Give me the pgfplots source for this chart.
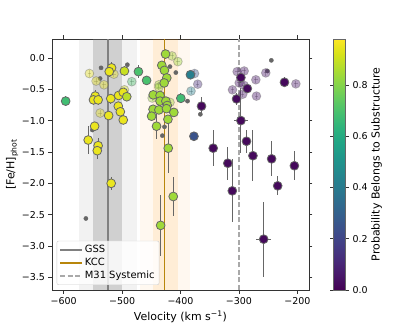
\documentclass[border=0pt]{standalone}
\usepackage{fontspec}
\setmainfont{DejaVu Sans}
\usepackage{pgfplots}
\usepackage{pgfplotstable}
\pgfplotsset{compat=1.18}

\definecolor{kcc}{RGB}{184,134,11}
\definecolor{gssline}{RGB}{128,128,128}
\definecolor{m31}{RGB}{169,169,169}
\definecolor{bandorange}{RGB}{255,140,0}

\pgfplotsset{linelegend/.style={legend image code/.code={\draw[##1] (0bp,0bp) -- (22bp,0bp);}}}

% stars with a colour (probability p)
\pgfplotstableread{
x y ex ey p
-596.6 -0.69 3 0.08 0.68
-518 -0.16 3 0.10 0.95
-522 -0.22 3 0.08 0.95
-496 -0.21 3 0.08 0.90
-472 -0.22 3 0.10 0.70
-458 -0.36 3 0.06 0.70
-546 -0.61 3 0.10 0.95
-549 -0.67 3 0.08 0.95
-541 -0.67 3 0.08 0.95
-519.4 -0.65 3 0.08 0.95
-506 -0.60 3 0.06 0.95
-498 -0.55 3 0.06 0.95
-492 -0.62 3 0.06 0.88
-506.5 -0.77 3 0.06 0.95
-503 -0.86 3 0.06 0.95
-498 -0.99 3 0.06 0.95
-523 -0.92 3 0.06 0.95
-547 -1.09 3 0.06 0.95
-558 -1.31 3 0.23 0.95
-541 -1.40 3 0.13 0.95
-542.5 -1.48 3 0.13 0.95
-518.7 -2.00 3 0.10 0.95
-425.6 0.06 3 0.05 0.84
-432 -0.12 3 0.06 0.84
-427.5 -0.20 3 0.06 0.84
-423.5 -0.32 3 0.06 0.84
-428 -0.40 3 0.06 0.84
-446.7 -0.59 3 0.06 0.84
-435 -0.60 3 0.06 0.84
-435 -0.69 3 0.06 0.84
-425 -0.69 3 0.06 0.84
-422.7 -0.76 3 0.06 0.84
-447 -0.82 3 0.06 0.84
-437 -0.83 3 0.06 0.84
-424 -0.81 3 0.06 0.84
-411.4 -0.87 3 0.06 0.84
-449.5 -0.93 3 0.06 0.84
-421.5 -0.98 3 0.06 0.84
-441 -1.09 3 0.20 0.84
-421 -1.44 3 0.40 0.84
-412.4 -2.21 3 0.31 0.84
-434 -2.67 3 0.49 0.84
-399.4 -0.645 3 0.08 0.68
-383 -0.27 3 0.07 0.42
-377 -1.25 7 0.07 0.25
-364 -0.77 3 0.14 0.02
-344 -1.44 3 0.29 0.02
-319 -1.68 3 0.26 0.02
-304 -0.655 3 0.10 0.02
-296.6 -1.00 12 0.52 0.02
-296.6 -0.315 3 0.08 0.02
-285.6 -0.49 3 0.06 0.02
-287 -1.33 3 0.18 0.02
-276 -1.56 3 0.41 0.02
-244 -1.61 3 0.28 0.02
-311.3 -2.12 3 0.50 0.02
-233.6 -2.04 3 0.15 0.02
-205 -1.72 3 0.23 0.02
-257.6 -2.89 13 0.60 0.02
-222 -0.39 3 0.08 0.02
}\solid

% faded stars
\pgfplotstableread{
x y ex ey p
-556 -0.25 3 0.05 0.95
-544.5 -0.37 3 0.05 0.95
-531 -0.43 3 0.05 0.95
-514 -0.26 3 0.05 0.95
-483.4 -0.38 3 0.05 0.70
-496 -0.51 3 0.05 0.92
-537.6 -0.88 3 0.05 0.95
-414.5 0.03 3 0.05 0.84
-404.5 -0.06 3 0.05 0.84
-437 -0.43 3 0.05 0.84
-437 -0.47 3 0.05 0.84
-448.5 -0.64 3 0.05 0.84
-418 -0.71 3 0.05 0.84
-376 -0.25 3 0.05 0.25
-370.5 -0.42 3 0.05 0.12
-382 -0.53 3 0.05 0.42
-303 -0.22 3 0.05 0.05
-291 -0.21 3 0.05 0.05
-254 -0.24 3 0.05 0.05
-271 -0.35 3 0.05 0.05
-202.5 -0.415 3 0.05 0.05
-299.5 -0.40 3 0.05 0.05
-291 -0.44 3 0.05 0.05
-311 -0.51 3 0.05 0.05
-293.5 -0.58 3 0.05 0.05
-270 -0.61 3 0.05 0.05
}\faded

% small grey dots
\pgfplotstableread{
x y
-536 -0.16
-537.6 -0.33
-491 -0.11
-551 -1.15
-562 -2.56
-418 -0.14
-408 -0.235
-388 -0.69
-366 -0.90
-427.4 -1.10
-431 -1.24
-244.5 -0.04
-251.3 -0.21
}\greydots

\begin{document}
\begin{tikzpicture}
\useasboundingbox (-52bp,-42bp) rectangle (363bp,290bp);
\begin{axis}[
  at={(0,0)}, anchor=south west,
  scale only axis, width=257bp, height=251bp,
  xmin=-620, xmax=-180, ymin=-3.7, ymax=0.3,
  xtick={-600,-500,-400,-300,-200},
  xticklabels={−600,−500,−400,−300,−200},
  ytick={-3.5,-3,-2.5,-2,-1.5,-1,-0.5,0},
  yticklabels={−3.5,−3.0,−2.5,−2.0,−1.5,−1.0,−0.5,0.0},
  tick align=outside,
  major tick length=3.5bp,
  tick style={black!80, line width=0.6pt},
  axis line style={black!80, line width=0.6pt},
  ticklabel style={font=\fontsize{9.5}{11}\selectfont},
  label style={font=\fontsize{11}{13}\selectfont},
  xlabel={Velocity (km s\textsuperscript{−1})},
  ylabel={[Fe/H]\textsubscript{phot}},
  ylabel style={yshift=-3bp},
  colormap name=viridis,
  point meta min=0, point meta max=0.98,
  colorbar,
  colorbar style={
    at={(parent axis.north east)}, anchor=north west, xshift=16bp,
    width=12bp,
    ytick={0,0.2,0.4,0.6,0.8},
    yticklabels={0.0,0.2,0.4,0.6,0.8},
    ytick align=outside,
    major tick length=3.5bp,
    tick style={black!80, line width=0.6pt},
    axis line style={black!60, line width=0.6pt},
    yticklabel style={font=\fontsize{9.5}{11}\selectfont},
    ylabel={Probability Belongs to Substructure},
    ylabel style={font=\fontsize{11}{13}\selectfont, yshift=3bp},
  },
  legend style={at={(0.018,0.02)}, anchor=south west,
    font=\fontsize{10}{12}\selectfont, draw=black!20, rounded corners=2bp,
    fill=white, fill opacity=0.8, text opacity=1, inner sep=2.5bp, row sep=0bp},
  legend cell align=left,
]
% bands
\addplot[draw=none, fill=gray, fill opacity=0.1, forget plot]
  coordinates {(-574,-3.7) (-474,-3.7) (-474,0.3) (-574,0.3)} -- cycle;
\addplot[draw=none, fill=gray, fill opacity=0.3, forget plot]
  coordinates {(-549,-3.7) (-500,-3.7) (-500,0.3) (-549,0.3)} -- cycle;
\addplot[draw=none, fill=bandorange, fill opacity=0.06, forget plot]
  coordinates {(-469,-3.7) (-383,-3.7) (-383,0.3) (-469,0.3)} -- cycle;
\addplot[draw=none, fill=bandorange, fill opacity=0.11, forget plot]
  coordinates {(-447,-3.7) (-405,-3.7) (-405,0.3) (-447,0.3)} -- cycle;
% lines
\addplot[gssline, line width=1.5bp, linelegend]
  coordinates {(-524,-3.7) (-524,0.3)};
\addlegendentry{GSS}
\addplot[kcc, line width=1.5bp, linelegend]
  coordinates {(-427,-3.7) (-427,0.3)};
\addlegendentry{KCC}
\addplot[m31, line width=1.5bp, dash pattern=on 5bp off 2.5bp, linelegend]
  coordinates {(-300,-3.7) (-300,0.3)};
\addlegendentry{M31 Systemic}
% grey dots
\addplot[only marks, mark=*, mark size=2.1bp, color=black!60, forget plot]
  table[x=x, y=y] {\greydots};
% faded stars
\addplot[scatter, only marks, scatter src=explicit, forget plot,
  mark=*, mark size=4.4bp,
  scatter/use mapped color={draw=black!60, fill=mapped color},
  mark options={line width=0.8bp, opacity=0.4},
  error bars/.cd, x dir=both, x explicit, y dir=both, y explicit,
  error bar style={color=black!60, line width=1bp, opacity=0.4}, error mark=none,
] table[x=x, y=y, x error=ex, y error=ey, meta=p] {\faded};
% solid stars
\addplot[scatter, only marks, scatter src=explicit, forget plot,
  mark=*, mark size=4.4bp,
  scatter/use mapped color={draw=black!60, fill=mapped color},
  mark options={line width=0.8bp},
  error bars/.cd, x dir=both, x explicit, y dir=both, y explicit,
  error bar style={color=black!60, line width=1bp}, error mark=none,
] table[x=x, y=y, x error=ex, y error=ey, meta=p] {\solid};
\end{axis}
\end{tikzpicture}
\end{document}
